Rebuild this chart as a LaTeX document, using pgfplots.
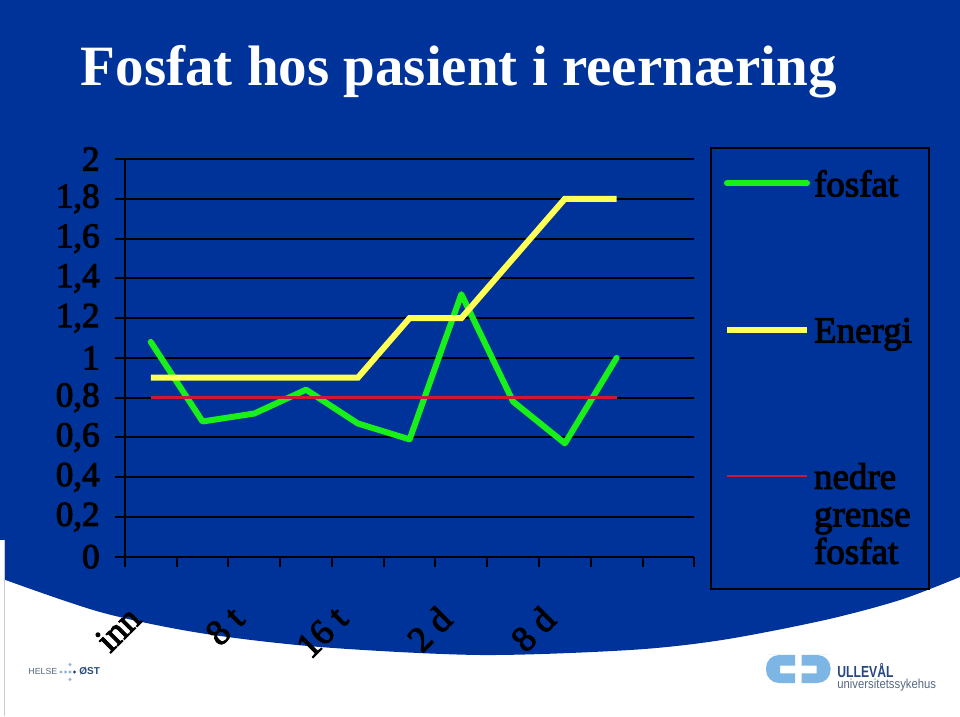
\documentclass[border=0pt]{standalone}
\usepackage{pgfplots}
\pgfplotsset{compat=1.18}
\usepackage{fontspec}
\setmainfont{Liberation Serif}
\setsansfont{Liberation Sans}
\newfontfamily\medfont[FakeBold=3]{Liberation Serif}
\definecolor{bgblue}{RGB}{0,51,153}
\definecolor{fgreen}{RGB}{25,240,25}
\definecolor{fyellow}{RGB}{255,255,85}
\definecolor{fred}{RGB}{205,25,55}
\definecolor{logoblue}{RGB}{125,182,228}
\definecolor{logodark}{RGB}{40,72,125}
\definecolor{logogray}{RGB}{85,105,130}
\definecolor{helselight}{RGB}{140,180,210}
\begin{document}
\begin{tikzpicture}
\begin{scope}[x=0.5pt,y=-0.5pt]
\fill[white] (0,0) rectangle (960,716);
\fill[bgblue] (0,0) -- (960,0) -- plot[smooth] coordinates {(960,577) (900,600) (825,620) (722,640) (630,650) (480,655) (320,647) (200,633) (100,612) (0,578)} -- cycle;
\fill[white] (0,540) rectangle (4,716);
\draw[gray!40, line width=0.5pt] (4,540) -- (4,716);
\node[anchor=base west, inner sep=0pt, text=white, font=\bfseries\fontsize{28.5}{30}\selectfont] at (80.5,86) {Fosfat hos pasient i reernæring};
% Helse Ost
\node[anchor=base west, inner sep=0pt, text=logogray, font=\sffamily\fontsize{4.4}{5}\selectfont] at (28,675) {HELSE};
\foreach \xx/\yy in {61/672,65.5/672,70/672,70/664.5,70/679.5} \fill[helselight] (\xx,\yy) circle (1.6);
\fill[logodark] (74.5,672) circle (1.6);
\node[anchor=base west, inner sep=0pt, text=logodark, font=\sffamily\bfseries\fontsize{5}{6}\selectfont] at (79,675) {ØST};
% Ulleval
\fill[logoblue] (780.5,655) -- (795,655) -- (795,665.7) -- (780,665.7) -- (780,673.3) -- (795,673.3) -- (795,683) -- (780.5,683) [rounded corners=6.5pt] -- (766,683) -- (766,655) -- cycle;
\fill[logoblue] (816.5,655) -- (801.7,655) -- (801.7,665.7) -- (816.7,665.7) -- (816.7,673.3) -- (801.7,673.3) -- (801.7,683) -- (816.5,683) [rounded corners=6.5pt] -- (830.5,683) -- (830.5,655) -- cycle;
\node[anchor=base west, inner sep=0pt, text=logodark, font=\sffamily\bfseries\fontsize{8}{9}\selectfont] at (837,677) {\scalebox{0.76}[1]{ULLEVÅL}};
\node[anchor=base west, inner sep=0pt, text=logogray, font=\sffamily\fontsize{6.5}{7}\selectfont] at (837,689) {\scalebox{0.87}[1]{universitetssykehus}};
\end{scope}
\begin{axis}[
  at={(62.45pt,-278.35pt)}, anchor=south west,
  scale only axis, width=284.7pt, height=198.85pt,
  xmin=0.5, xmax=11.5, ymin=0, ymax=2,
  axis x line*=bottom, axis y line*=left,
  axis line style={black, line width=1pt, -},
  tick style={black, line width=1pt},
  tick align=outside, major tick length=5pt,
  ymajorgrids, grid style={black, line width=1pt},
  ytick={0,0.2,0.4,0.6,0.8,1,1.2,1.4,1.6,1.8,2},
  yticklabels={0,{0,2},{0,4},{0,6},{0,8},1,{1,2},{1,4},{1,6},{1,8},2},
  yticklabel style={font=\medfont\fontsize{17.5}{17.5}\selectfont, inner sep=0pt, xshift=-7.45pt},
  xtick={0.5,1.5,2.5,3.5,4.5,5.5,6.5,7.5,8.5,9.5,10.5,11.5},
  xticklabels={},
  extra x ticks={1,3,5,7,9},
  extra x tick labels={inn,8 t,16 t,2 d,8 d},
  extra x tick style={major tick length=0pt, xticklabel style={font=\medfont\fontsize{18}{18}\selectfont, xshift=-12.5pt, yshift=-23.5pt, rotate=45, anchor=north east, inner sep=0pt}},
  legend style={at={(1.0276,1.030)}, anchor=north west, draw=black, line width=1pt, fill=none,
    font=\medfont\fontsize{18.5}{18.75}\selectfont, text=black,
    inner xsep=6.5pt, inner ysep=9pt, row sep=17pt, column sep=0pt,
    cells={anchor=base west, align=left, inner sep=0pt}},
  legend image code/.code={\draw[#1] (3pt,44pt) -- (43pt,44pt);},
  clip=false,
]
\addplot[fgreen, line width=3pt, line cap=round, line join=round] coordinates {(1,1.08) (2,0.68) (3,0.72) (4,0.84) (5,0.67) (6,0.59) (7,1.32) (8,0.78) (9,0.57) (10,1.00)};
\addplot[fyellow, line width=3pt, line join=miter] coordinates {(1,0.9) (2,0.9) (3,0.9) (4,0.9) (5,0.9) (6,1.2) (7,1.2) (8,1.5) (9,1.8) (10,1.8)};
\addplot[fred, line width=1.2pt] coordinates {(1,0.8) (2,0.8) (3,0.8) (4,0.8) (5,0.8) (6,0.8) (7,0.8) (8,0.8) (9,0.8) (10,0.8)};
\legend{{\strut fosfat\\\strut\\\strut}, {\strut Energi\\\strut\\\strut}, {\strut nedre\\\strut grense\\\strut fosfat}}
\end{axis}
\end{tikzpicture}
\end{document}
